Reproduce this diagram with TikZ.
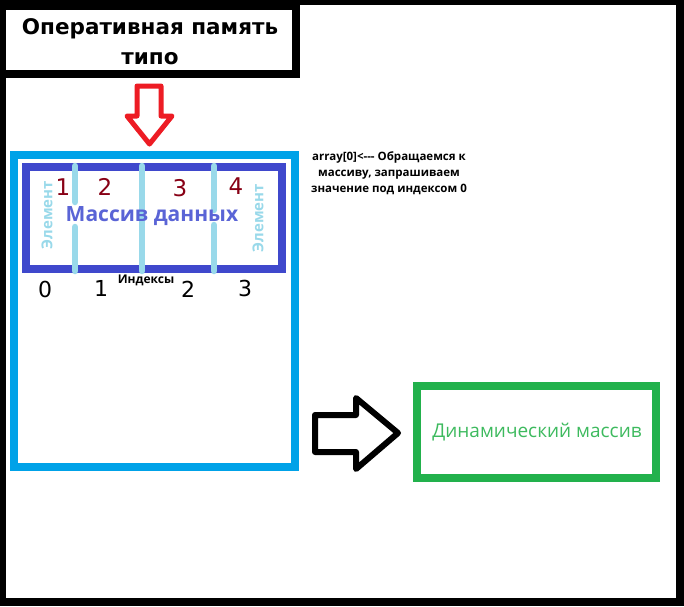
\documentclass[tikz,border=0pt]{standalone}
\usepackage{fontspec}
\setmainfont{Open Sans}
\newfontfamily\titlefont{DejaVu Sans}
\newfontfamily\digitfont{DejaVu Sans}
\definecolor{cyanb}{HTML}{00A2E8}
\definecolor{indigob}{HTML}{3F48CC}
\definecolor{textblue}{HTML}{5A64D6}
\definecolor{lightb}{HTML}{99D9EA}
\definecolor{redarrow}{HTML}{ED1C24}
\definecolor{darkred}{HTML}{880015}
\definecolor{greenb}{HTML}{22B14C}
\definecolor{greent}{HTML}{3DBA5E}
\begin{document}
\begin{tikzpicture}[x=1pt,y=-1pt,
  framebox/.style={line width=8pt},
  divider/.style={draw=lightb,line width=6.5pt,line cap=round},
  reddigit/.style={text=darkred,font=\digitfont\fontsize{23}{23}\selectfont,inner sep=0pt},
  blackdigit/.style={text=black,font=\digitfont\fontsize{22}{22}\selectfont,inner sep=0pt},
  elemlabel/.style={text=lightb,font=\fontsize{15}{15}\selectfont\bfseries,rotate=90,inner sep=0pt},
  notetext/.style={font=\bfseries\fontsize{11.5}{16}\selectfont,align=center,inner sep=0pt},
  outlinearrow/.style={line join=round}]
\useasboundingbox (0,0) rectangle (684,606);
% outer frame
\fill[black] (0,0) rectangle (684,606);
\fill[white] (6,5) rectangle (676,598);
% title box
\fill[black] (0,0) rectangle (300,78);
\fill[white] (6,10) rectangle (292,70);
\node[font=\titlefont\bfseries\fontsize{21.5}{30}\selectfont,align=center,inner sep=0pt] (title) at (150,42) {Оперативная память\\типо};
% red arrow
\draw[draw=redarrow,line width=5pt,outlinearrow] (137,86) -- (161,86) -- (161,116) -- (172,116) -- (149.5,144) -- (127,116) -- (137,116) -- cycle;
% cyan memory box
\draw[draw=cyanb,framebox] (14,155) rectangle (295,467);
% array box
\draw[draw=indigob,framebox] (26,167) rectangle (282,269);
% dividers
\draw[divider] (75,166) -- (75,202);
\draw[divider] (75,227) -- (75,271);
\draw[divider] (142,166) -- (142,271);
\draw[divider] (214,166) -- (214,210);
\draw[divider] (214,225) -- (214,271);
% element labels
\node[elemlabel] (elemL) at (47,215) {Элемент};
\node[elemlabel] (elemR) at (258,218) {Элемент};
% red numbers
\node[reddigit] (n1) at (63,187) {1};
\node[reddigit] (n2) at (105,187) {2};
\node[reddigit] (n3) at (180,188) {3};
\node[reddigit] (n4) at (236,186) {4};
% array title
\node[text=textblue,font=\bfseries\fontsize{21}{21}\selectfont,inner sep=0pt] (arr) at (152,216) {Массив данных};
% indices
\node[blackdigit] (i0) at (45,289) {0};
\node[blackdigit] (i1) at (101,288) {1};
\node[blackdigit] (i2) at (188,289) {2};
\node[blackdigit] (i3) at (245,288) {3};
\node[font=\bfseries\fontsize{12}{12}\selectfont,inner sep=0pt] (idx) at (146,280) {Индексы};
% note
\node[notetext] (note) at (389,173) {array[0]<{-}{-}{-} Обращаемся к\\массиву, запрашиваем\\значение под индексом 0};
% black arrow
\draw[draw=black,line width=6pt,outlinearrow] (315,415) -- (356,415) -- (356,398) -- (398,433) -- (356,469) -- (356,452) -- (315,452) -- cycle;
% dynamic array box
\draw[draw=greenb,framebox] (417,386) rectangle (656,478);
\node[text=greent,font=\fontsize{19}{19}\selectfont,inner sep=0pt] (dyn) at (537,432) {Динамический массив};
\end{tikzpicture}
\end{document}
